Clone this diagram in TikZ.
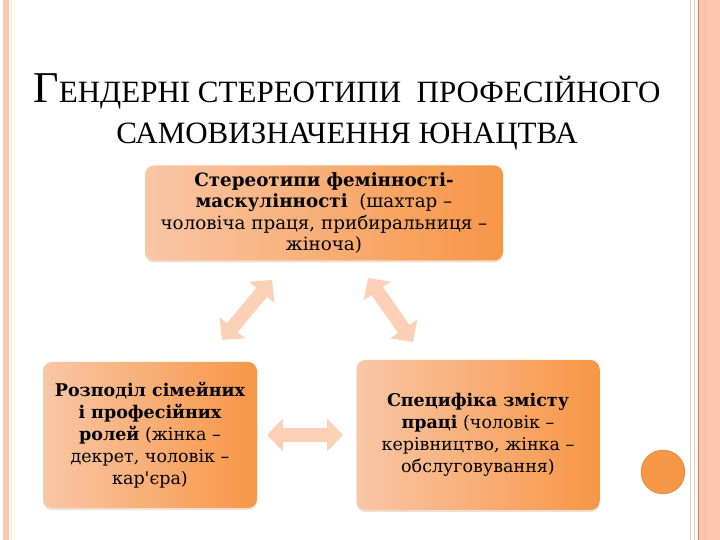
\documentclass[tikz,border=0pt]{standalone}
\usepackage{fontspec}
\setmainfont{DejaVu Serif}[Ligatures=TeXOff]
\newfontfamily\titlefont{Liberation Serif}
\usetikzlibrary{arrows.meta,shadows}
\definecolor{PeachL}{HTML}{F9C6A6}
\definecolor{OrangeD}{HTML}{F79646}
\definecolor{ArrowPeach}{HTML}{FBD0B6}
\definecolor{EdgeSalmon}{HTML}{FCC6B0}
\definecolor{EdgeTan}{HTML}{E9C9B6}
\definecolor{EdgeOrange}{HTML}{E97B4A}

\begin{document}
\begin{tikzpicture}[
  x=1pt,y=1pt,
  every node/.style={font=\fontsize{17.5}{22}\selectfont},
  card/.style={rounded corners=9pt,left color=PeachL,right color=OrangeD,
    align=center,inner sep=4pt,
    drop shadow={shadow xshift=0pt,shadow yshift=-2pt,opacity=.35,fill=brown!70}},
  dblarr/.style={line width=14pt,color=ArrowPeach,
    {Triangle[length=16pt,width=32pt]}-{Triangle[length=16pt,width=32pt]}},
  edge/.style={line width=0.8pt}
]
  \useasboundingbox (0,0) rectangle (720,540);
  \fill[white] (0,0) rectangle (720,540);

  % slide edges
  \fill[EdgeSalmon] (3,0) rectangle (9,540);
  \draw[edge,EdgeSalmon!50] (11,0) -- (11,540);
  \draw[edge,yellow!15] (14,0) -- (14,540);
  \draw[edge,EdgeTan] (690,0) -- (690,540);
  \draw[edge,EdgeTan] (694,0) -- (694,540);
  \fill[EdgeSalmon] (698,0) rectangle (720,540);
  \draw[edge,EdgeOrange] (698,0) -- (698,540);
  \draw[edge,EdgeSalmon!80!orange] (705,0) -- (705,540);

  \node[align=center,font=\titlefont\fontsize{31}{41}\selectfont] (title) at (347,428)
    {{\fontsize{44}{41}\selectfont Г}ЕНДЕРНІ СТЕРЕОТИПИ \ ПРОФЕСІЙНОГО\\
     САМОВИЗНАЧЕННЯ ЮНАЦТВА};

  \node[card,minimum width=358pt,minimum height=95pt,
    font=\fontsize{18.3}{21.5}\selectfont] (stereo) at (324,327)
    {\textbf{Стереотипи фемінності-}\\
     \textbf{маскулінності}\ \ (шахтар –\\
     чоловіча праця, прибиральниця –\\
     жіноча)};
  \node[card,minimum width=214pt,minimum height=146pt] (roles) at (150,105)
    {\textbf{Розподіл сімейних}\\
     \textbf{і професійних}\\
     \textbf{ролей} (жінка –\\
     декрет, чоловік –\\
     кар'єра)};
  \node[card,minimum width=243pt,minimum height=150pt] (work) at (478,105)
    {\textbf{Специфіка змісту}\\
     \textbf{праці} (чоловік –\\
     керівництво, жінка –\\
     обслуговування)};

  \coordinate (sl) at (272,260);
  \coordinate (rl) at (222,200);
  \coordinate (sr) at (368,262);
  \coordinate (wr) at (413,198);
  \coordinate (rh) at (267,105);
  \coordinate (wh) at (343,105);
  \draw[dblarr] (sl) -- (rl);
  \draw[dblarr] (sr) -- (wr);
  \draw[dblarr] (rh) -- (wh);

  \node[circle,fill=OrangeD,draw=OrangeD!85!black,minimum size=44pt] (dot) at (663,68) {};
\end{tikzpicture}
\end{document}
